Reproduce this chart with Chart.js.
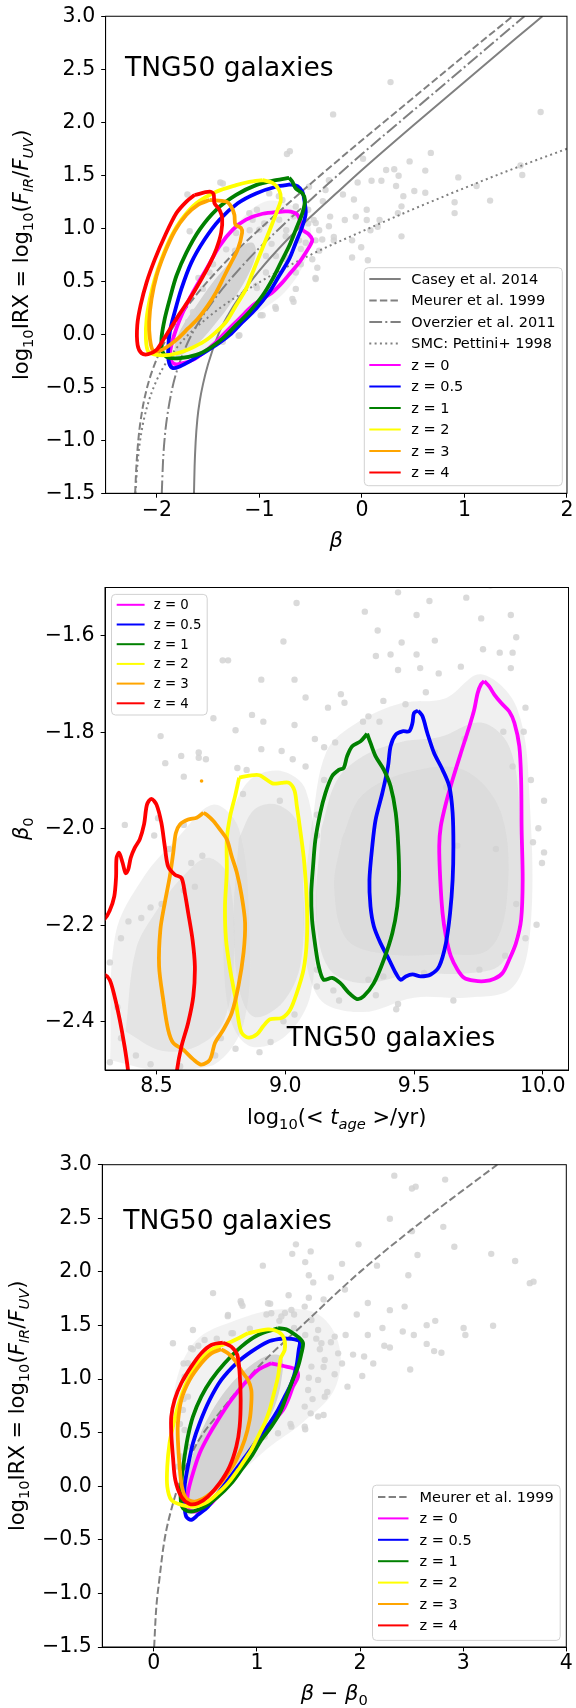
<!DOCTYPE html>
<html>
<head>
<meta charset="utf-8">
<script src="https://cdn.jsdelivr.net/npm/chart.js@4.4.1/dist/chart.umd.min.js"></script>
<style>
  body { margin: 0; background: #fff; width: 576px; height: 1708px; position: relative; overflow: hidden; }
  .panel { position: absolute; left: 0; width: 576px; }
</style>
</head>
<body>
<div class="panel" style="top:0;height:560px"><canvas id="c1"></canvas></div>
<div class="panel" style="top:560px;height:575px"><canvas id="c2"></canvas></div>
<div class="panel" style="top:1135px;height:573px"><canvas id="c3"></canvas></div>
<script>
// ---------- shared ----------
var zLabels = ['z = 0', 'z = 0.5', 'z = 1', 'z = 2', 'z = 3', 'z = 4'];
var zColors = ['#ff00ff', '#0000ff', '#008000', '#ffff00', '#ffa500', '#ff0000'];

// ---------- panel 1: IRX vs beta ----------
var p1XTicks = [-2, -1, 0, 1, 2];
var p1YTicks = [-1.5, -1.0, -0.5, 0.0, 0.5, 1.0, 1.5, 2.0, 2.5, 3.0];
var casey2014 = [[-1.638,-1.5],[-1.632,-1.25],[-1.622,-1.02],[-1.605,-0.80],[-1.58,-0.62],[-1.55,-0.47],[-1.5,-0.28],[-1.4,0.0],[-1.3,0.19],[-1.2,0.345],[-1.0,0.6],[-0.75,0.87],[-0.5,1.108],[-0.25,1.33],[0,1.55],[0.5,1.97],[1.0,2.38],[1.5,2.79],[1.76,3.0]];
var meurer1999 = [[-2.212,-1.5],[-2.2,-1.25],[-2.18,-0.99],[-2.15,-0.76],[-2.1,-0.52],[-2.0,-0.23],[-1.9,-0.03],[-1.8,0.13],[-1.6,0.39],[-1.4,0.61],[-1.2,0.81],[-1.0,0.99],[-0.5,1.42],[0,1.83],[0.5,2.23],[1.0,2.63],[1.47,3.0]];
var overzier2011 = [[-1.952,-1.5],[-1.94,-1.2],[-1.92,-0.94],[-1.9,-0.78],[-1.85,-0.51],[-1.8,-0.33],[-1.7,-0.08],[-1.6,0.10],[-1.4,0.38],[-1.2,0.61],[-1.0,0.815],[-0.5,1.27],[0,1.70],[0.5,2.11],[1.0,2.52],[1.585,3.0]];
var smc1998 = [[-2.209,-1.5],[-2.2,-1.36],[-2.18,-1.13],[-2.15,-0.92],[-2.1,-0.70],[-2.0,-0.43],[-1.8,-0.12],[-1.5,0.16],[-1.0,0.49],[-0.5,0.75],[0,0.97],[0.5,1.18],[1.0,1.38],[1.5,1.57],[2.0,1.75]];

var p1z0 = [[-0.775,1.158],[-0.694,1.158],[-0.629,1.127],[-0.597,1.050],[-0.581,0.987],[-0.516,0.941],[-0.484,0.894],[-0.500,0.847],[-0.548,0.770],[-0.613,0.676],[-0.694,0.583],[-0.775,0.490],[-0.872,0.397],[-0.969,0.334],[-1.066,0.272],[-1.163,0.179],[-1.260,0.086],[-1.357,-0.008],[-1.454,-0.101],[-1.551,-0.179],[-1.648,-0.241],[-1.745,-0.272],[-1.826,-0.281],[-1.874,-0.225],[-1.858,-0.101],[-1.809,0.055],[-1.745,0.210],[-1.648,0.397],[-1.518,0.614],[-1.389,0.832],[-1.260,0.987],[-1.130,1.081],[-0.969,1.137],[-0.775,1.158]];
var p1z05 = [[-0.694,1.413],[-0.629,1.398],[-0.581,1.345],[-0.565,1.283],[-0.548,1.143],[-0.581,1.019],[-0.645,0.863],[-0.710,0.708],[-0.807,0.552],[-0.904,0.397],[-1.033,0.241],[-1.163,0.117],[-1.292,-0.008],[-1.421,-0.101],[-1.551,-0.179],[-1.680,-0.256],[-1.777,-0.303],[-1.842,-0.319],[-1.880,-0.272],[-1.890,-0.163],[-1.874,0.023],[-1.826,0.210],[-1.761,0.428],[-1.664,0.676],[-1.535,0.894],[-1.389,1.081],[-1.211,1.236],[-1.033,1.329],[-0.839,1.392],[-0.694,1.413]];
var p1z1 = [[-0.710,1.476],[-0.678,1.438],[-0.645,1.376],[-0.581,1.329],[-0.555,1.267],[-0.581,1.143],[-0.645,0.987],[-0.710,0.832],[-0.791,0.676],[-0.872,0.521],[-0.969,0.366],[-1.098,0.210],[-1.227,0.086],[-1.357,-0.039],[-1.486,-0.132],[-1.615,-0.194],[-1.777,-0.225],[-1.890,-0.219],[-1.945,-0.163],[-1.955,-0.039],[-1.923,0.148],[-1.874,0.334],[-1.809,0.552],[-1.712,0.770],[-1.583,0.987],[-1.421,1.174],[-1.227,1.314],[-1.033,1.407],[-0.839,1.454],[-0.710,1.476]];
var p1z2 = [[-0.969,1.454],[-0.872,1.429],[-0.807,1.361],[-0.791,1.267],[-0.823,1.174],[-0.872,1.050],[-0.936,0.894],[-1.001,0.739],[-1.066,0.583],[-1.130,0.428],[-1.227,0.272],[-1.324,0.117],[-1.421,0.023],[-1.518,-0.054],[-1.632,-0.116],[-1.745,-0.163],[-1.874,-0.194],[-2.003,-0.194],[-2.084,-0.163],[-2.107,-0.039],[-2.100,0.148],[-2.068,0.334],[-2.020,0.521],[-1.955,0.707],[-1.858,0.925],[-1.761,1.081],[-1.615,1.236],[-1.421,1.345],[-1.227,1.407],[-1.098,1.438],[-0.969,1.454]];
var p1z3 = [[-1.486,1.267],[-1.324,1.252],[-1.276,1.205],[-1.244,1.127],[-1.234,1.034],[-1.179,1.003],[-1.169,0.956],[-1.211,0.801],[-1.276,0.676],[-1.341,0.552],[-1.421,0.397],[-1.502,0.272],[-1.599,0.148],[-1.696,0.055],[-1.793,-0.039],[-1.874,-0.101],[-1.955,-0.148],[-2.036,-0.157],[-2.068,-0.039],[-2.075,0.117],[-2.052,0.334],[-2.003,0.552],[-1.923,0.770],[-1.826,0.972],[-1.712,1.127],[-1.599,1.221],[-1.486,1.267]];
var p1z4 = [[-1.632,1.314],[-1.486,1.345],[-1.447,1.323],[-1.438,1.236],[-1.389,1.174],[-1.363,1.096],[-1.373,0.956],[-1.421,0.801],[-1.486,0.661],[-1.583,0.490],[-1.680,0.334],[-1.777,0.195],[-1.858,0.070],[-1.939,-0.054],[-2.003,-0.148],[-2.084,-0.188],[-2.149,-0.179],[-2.188,-0.101],[-2.191,0.086],[-2.159,0.272],[-2.100,0.490],[-2.020,0.707],[-1.923,0.925],[-1.809,1.143],[-1.712,1.252],[-1.632,1.314]];
var p1Core = [[-1.809,-0.225],[-1.615,-0.101],[-1.389,0.148],[-1.227,0.366],[-1.098,0.583],[-1.033,0.770],[-1.066,0.863],[-1.163,0.832],[-1.292,0.676],[-1.454,0.490],[-1.615,0.272],[-1.745,0.086],[-1.826,-0.101],[-1.809,-0.225]];
var p1Halo = [[-1.85,-0.28],[-1.5,-0.15],[-1.1,0.15],[-0.75,0.4],[-0.55,0.7],[-0.5,1.0],[-0.65,1.2],[-0.95,1.25],[-1.25,1.0],[-1.5,0.6],[-1.75,0.2],[-1.9,-0.1],[-1.85,-0.28]];
var p1Dots = [[0.279,2.379],[-0.281,2.074],[1.743,2.097],[-0.703,1.727],[-0.731,1.701],[0.672,1.711],[0.011,1.656],[0.465,1.631],[0.236,1.550],[0.315,1.557],[0.618,1.544],[0.358,1.496],[0.940,1.480],[-1.381,1.432],[-1.702,1.319],[0.190,1.448],[0.511,1.351],[0.404,1.303],[0.618,1.335],[0.333,1.399],[0.094,1.448],[-0.042,1.432],[1.564,1.502],[1.547,1.592],[1.118,1.399],[1.250,1.261],[0.904,1.245],[0.904,1.143],[0.386,1.207],[0.351,1.143],[-0.185,1.319],[-0.078,1.271],[-0.381,1.255],[-0.310,1.110],[-0.167,1.078],[-0.060,1.110],[0.047,1.078],[0.172,1.078],[0.047,1.175],[-0.274,0.918],[-0.274,0.886],[-0.096,0.725],[-0.096,0.886],[-0.007,0.821],[0.058,0.699],[0.386,0.924],[-0.453,0.886],[-0.435,0.628],[-0.453,0.532],[-0.667,0.307],[-0.845,0.259],[-0.988,0.179],[-1.203,-0.014],[0.083,0.982],[0.154,1.014],[-0.417,0.982],[-0.613,0.886],[-0.596,0.805],[-0.953,1.046],[-1.024,1.175],[-0.810,1.303],[-1.095,0.982],[-0.524,1.046],[-0.738,0.982],[-0.667,1.110],[-0.881,0.853],[-1.095,0.789],[-1.238,0.596],[-0.738,0.725],[-0.596,0.661],[-0.845,0.532],[-1.024,0.436],[-1.309,0.468],[-1.381,0.275],[-1.524,0.211],[-0.524,1.175],[-0.417,0.789],[-0.470,1.078],[-1.238,0.789],[-1.452,0.661],[-1.595,0.532],[-1.666,0.339],[-1.357,1.423],[-0.904,1.329],[-0.775,1.267],[-0.516,1.392],[-0.355,1.361],[-0.322,1.454],[-0.451,1.050],[-0.387,0.894],[-0.322,1.019],[-0.484,0.708],[-0.645,0.583],[-0.451,0.521],[-0.678,0.334],[-0.839,0.241],[-0.969,0.179],[-1.195,-0.008],[-1.357,-0.070],[-0.645,0.428],[-1.680,0.972],[-1.696,0.117],[-1.066,1.081],[-1.001,0.987],[-0.807,1.081],[-0.743,0.925],[-0.839,0.739],[-0.936,0.583],[-1.033,0.459],[-1.227,0.956],[-1.324,0.801],[-1.486,0.583],[-1.551,0.428],[-1.648,0.210],[-1.098,1.143],[-0.645,1.205],[-0.548,0.863],[-0.743,0.708],[-0.936,0.739]];

// ---------- panel 2: beta0 vs stellar age ----------
var p2XTicks = [8.5, 9.0, 9.5, 10.0];
var p2YTicks = [-2.4, -2.2, -2.0, -1.8, -1.6];
var p2z0 = [[9.773,-1.694],[9.792,-1.705],[9.812,-1.722],[9.838,-1.739],[9.870,-1.757],[9.890,-1.781],[9.909,-1.829],[9.916,-1.898],[9.918,-2.002],[9.922,-2.106],[9.916,-2.188],[9.896,-2.237],[9.870,-2.271],[9.844,-2.299],[9.812,-2.311],[9.773,-2.316],[9.734,-2.315],[9.695,-2.309],[9.669,-2.292],[9.643,-2.264],[9.624,-2.223],[9.611,-2.175],[9.602,-2.106],[9.598,-2.036],[9.604,-1.995],[9.624,-1.947],[9.650,-1.898],[9.682,-1.843],[9.715,-1.788],[9.734,-1.753],[9.747,-1.719],[9.760,-1.701],[9.773,-1.694]];
var p2z05 = [[9.516,-1.755],[9.533,-1.767],[9.552,-1.802],[9.578,-1.843],[9.611,-1.878],[9.637,-1.912],[9.650,-1.967],[9.653,-2.036],[9.650,-2.106],[9.640,-2.175],[9.624,-2.237],[9.598,-2.285],[9.565,-2.302],[9.526,-2.306],[9.494,-2.302],[9.468,-2.306],[9.448,-2.313],[9.429,-2.299],[9.403,-2.271],[9.370,-2.237],[9.344,-2.202],[9.331,-2.161],[9.327,-2.106],[9.338,-2.036],[9.351,-1.981],[9.377,-1.926],[9.399,-1.871],[9.409,-1.829],[9.429,-1.805],[9.455,-1.798],[9.481,-1.798],[9.494,-1.781],[9.500,-1.760],[9.516,-1.755]];
var p2z1 = [[9.318,-1.803],[9.331,-1.822],[9.351,-1.850],[9.383,-1.878],[9.409,-1.912],[9.429,-1.967],[9.439,-2.036],[9.442,-2.106],[9.435,-2.161],[9.416,-2.216],[9.383,-2.271],[9.344,-2.320],[9.305,-2.347],[9.279,-2.353],[9.247,-2.340],[9.214,-2.320],[9.182,-2.309],[9.149,-2.313],[9.130,-2.285],[9.117,-2.244],[9.104,-2.188],[9.101,-2.133],[9.108,-2.078],[9.117,-2.023],[9.136,-1.967],[9.156,-1.926],[9.182,-1.891],[9.208,-1.878],[9.227,-1.874],[9.240,-1.850],[9.260,-1.829],[9.292,-1.819],[9.318,-1.803]];
var p2z2 = [[8.821,-1.894],[8.860,-1.890],[8.900,-1.889],[8.950,-1.906],[8.985,-1.905],[9.015,-1.905],[9.036,-1.921],[9.045,-1.953],[9.058,-2.002],[9.074,-2.071],[9.084,-2.154],[9.084,-2.230],[9.071,-2.292],[9.045,-2.340],[9.019,-2.375],[8.987,-2.392],[8.941,-2.395],[8.915,-2.409],[8.890,-2.426],[8.857,-2.433],[8.831,-2.423],[8.818,-2.395],[8.805,-2.347],[8.786,-2.292],[8.770,-2.230],[8.766,-2.160],[8.773,-2.091],[8.773,-2.022],[8.786,-1.974],[8.805,-1.933],[8.821,-1.894]];
var p2z3 = [[8.682,-1.967],[8.695,-1.971],[8.721,-1.984],[8.747,-2.002],[8.773,-2.022],[8.792,-2.057],[8.812,-2.091],[8.831,-2.140],[8.844,-2.195],[8.838,-2.257],[8.818,-2.326],[8.792,-2.382],[8.760,-2.416],[8.727,-2.444],[8.708,-2.478],[8.675,-2.489],[8.643,-2.478],[8.604,-2.458],[8.565,-2.444],[8.545,-2.416],[8.526,-2.354],[8.510,-2.285],[8.515,-2.209],[8.532,-2.154],[8.552,-2.098],[8.565,-2.050],[8.575,-2.009],[8.591,-1.991],[8.623,-1.981],[8.656,-1.977],[8.682,-1.967]];
var p2z3Spot = [[8.675,-1.901]];
var p2z4 = [[8.26,-2.30],[8.297,-2.302],[8.318,-2.313],[8.337,-2.347],[8.357,-2.395],[8.376,-2.451],[8.389,-2.499],[8.40,-2.56],[8.57,-2.56],[8.580,-2.499],[8.597,-2.451],[8.623,-2.402],[8.643,-2.347],[8.649,-2.285],[8.640,-2.230],[8.623,-2.174],[8.610,-2.133],[8.597,-2.102],[8.571,-2.095],[8.545,-2.078],[8.532,-2.036],[8.519,-1.988],[8.500,-1.950],[8.480,-1.938],[8.463,-1.950],[8.452,-1.990],[8.435,-2.022],[8.415,-2.040],[8.400,-2.060],[8.390,-2.085],[8.380,-2.092],[8.368,-2.070],[8.355,-2.050],[8.345,-2.060],[8.343,-2.100],[8.336,-2.140],[8.318,-2.170],[8.297,-2.188],[8.26,-2.20],[8.26,-2.30]];
var p2HaloLeft = [[8.32,-2.48],[8.34,-2.22],[8.45,-2.10],[8.58,-2.02],[8.72,-1.95],[8.82,-2.0],[8.86,-2.2],[8.84,-2.40],[8.72,-2.49],[8.50,-2.50],[8.32,-2.48]];
var p2HaloMid = [[8.78,-1.98],[8.86,-1.90],[8.98,-1.88],[9.08,-1.92],[9.12,-2.1],[9.10,-2.34],[9.0,-2.43],[8.86,-2.45],[8.78,-2.38],[8.76,-2.15],[8.78,-1.98]];
var p2HaloRight = [[9.10,-2.0],[9.16,-1.84],[9.28,-1.78],[9.45,-1.74],[9.62,-1.73],[9.76,-1.68],[9.90,-1.75],[9.95,-1.95],[9.95,-2.22],[9.88,-2.33],[9.70,-2.35],[9.50,-2.35],[9.30,-2.38],[9.13,-2.35],[9.07,-2.2],[9.10,-2.0]];
var p2CloudLeft = [[8.38,-2.42],[8.42,-2.25],[8.50,-2.17],[8.60,-2.10],[8.70,-2.06],[8.78,-2.1],[8.80,-2.28],[8.76,-2.40],[8.66,-2.45],[8.52,-2.46],[8.38,-2.42]];
var p2CloudMid = [[8.82,-2.02],[8.88,-1.96],[8.97,-1.95],[9.05,-1.99],[9.07,-2.12],[9.06,-2.28],[8.99,-2.36],[8.88,-2.39],[8.82,-2.33],[8.80,-2.18],[8.82,-2.02]];
var p2CloudRight = [[9.14,-2.0],[9.20,-1.90],[9.30,-1.85],[9.45,-1.82],[9.6,-1.81],[9.76,-1.78],[9.87,-1.83],[9.91,-1.97],[9.91,-2.18],[9.84,-2.28],[9.70,-2.30],[9.50,-2.30],[9.30,-2.32],[9.17,-2.29],[9.12,-2.18],[9.14,-2.0]];
var p2CloudCore = [[9.22,-2.02],[9.3,-1.93],[9.5,-1.88],[9.7,-1.88],[9.84,-1.97],[9.86,-2.15],[9.79,-2.25],[9.6,-2.26],[9.4,-2.26],[9.24,-2.23],[9.19,-2.12],[9.22,-2.02]];
var p2Dots = [[9.438,-1.510],[9.703,-1.521],[9.560,-1.528],[9.044,-1.532],[9.797,-1.496],[9.876,-1.557],[9.309,-1.550],[9.510,-1.557],[9.761,-1.564],[9.897,-1.603],[8.993,-1.612],[9.359,-1.589],[9.452,-1.614],[9.581,-1.610],[9.768,-1.628],[9.833,-1.635],[9.352,-1.642],[9.409,-1.639],[9.510,-1.639],[9.883,-1.635],[8.757,-1.651],[8.778,-1.651],[9.438,-1.671],[9.524,-1.667],[9.596,-1.678],[9.682,-1.664],[9.876,-1.667],[8.907,-1.691],[9.036,-1.691],[9.216,-1.721],[9.079,-1.728],[9.166,-1.749],[9.230,-1.739],[9.381,-1.735],[9.467,-1.742],[9.546,-1.717],[9.933,-1.749],[9.366,-1.778],[9.323,-1.767],[9.302,-1.778],[9.036,-1.785],[8.871,-1.764],[8.915,-1.778],[8.807,-1.796],[8.721,-1.771],[8.516,-1.808],[8.596,-1.849],[8.664,-1.853],[8.692,-1.856],[8.534,-1.864],[8.907,-1.835],[8.986,-1.839],[9.029,-1.856],[9.115,-1.814],[9.151,-1.831],[9.194,-1.821],[8.814,-1.874],[8.850,-1.878],[9.079,-1.871],[9.954,-1.899],[10.005,-1.942],[9.983,-1.999],[9.962,-2.028],[10.005,-2.049],[9.997,-2.071],[9.976,-2.199],[9.933,-2.227],[9.653,-2.356],[9.438,-2.363],[9.352,-2.345],[9.431,-2.374],[9.187,-2.335],[9.209,-2.356],[9.123,-2.292],[9.036,-2.385],[8.993,-2.399],[8.943,-2.442],[8.900,-2.463],[8.807,-2.456],[8.750,-2.434],[8.728,-2.470],[8.592,-2.492],[8.477,-2.488],[8.420,-2.470],[8.319,-2.484],[8.362,-2.434],[8.348,-2.370],[8.319,-2.277],[8.362,-2.227],[8.391,-2.192],[8.441,-2.185],[8.477,-2.163],[8.520,-2.156],[8.606,-2.128],[8.649,-2.120],[8.678,-2.056],[8.635,-2.071],[8.506,-1.978],[8.491,-2.014],[8.549,-2.042],[8.377,-1.992],[8.606,-1.992],[8.606,-1.892],[8.664,-1.842],[8.836,-1.928],[8.979,-1.942],[9.123,-2.014],[9.123,-1.971],[9.151,-1.899],[9.668,-2.035],[9.581,-1.842],[9.625,-1.914],[9.696,-1.814],[9.847,-1.799],[9.926,-1.799],[9.883,-1.871],[9.818,-2.042],[9.897,-2.156],[9.854,-2.263],[9.754,-2.292],[9.539,-2.299],[9.323,-2.313],[9.123,-2.327],[9.381,-2.306]];

// ---------- panel 3: IRX vs beta - beta0 ----------
var p3XTicks = [0, 1, 2, 3, 4];
var p3YTicks = [-1.5, -1.0, -0.5, 0.0, 0.5, 1.0, 1.5, 2.0, 2.5, 3.0];
var meurerShifted = [[0.003,-1.5],[0.02,-1.18],[0.056,-0.85],[0.10,-0.52],[0.18,-0.18],[0.29,0.14],[0.43,0.42],[0.64,0.69],[1.0,1.1],[1.46,1.52],[2.0,2.0],[2.6,2.47],[3.33,3.0]];
var p3z0 = [[1.139,1.147],[1.285,1.116],[1.382,1.085],[1.398,1.023],[1.350,0.930],[1.301,0.805],[1.253,0.712],[1.172,0.619],[1.075,0.510],[0.978,0.370],[0.881,0.214],[0.784,0.090],[0.654,-0.050],[0.557,-0.159],[0.460,-0.221],[0.379,-0.236],[0.330,-0.205],[0.330,-0.065],[0.379,0.121],[0.444,0.308],[0.525,0.463],[0.622,0.619],[0.751,0.805],[0.881,0.961],[1.010,1.085],[1.139,1.147]];
var p3z05 = [[1.253,1.380],[1.366,1.371],[1.415,1.349],[1.405,1.272],[1.382,1.116],[1.334,0.961],[1.269,0.836],[1.204,0.712],[1.123,0.588],[1.026,0.463],[0.913,0.308],[0.816,0.183],[0.719,0.059],[0.622,-0.065],[0.525,-0.190],[0.427,-0.267],[0.363,-0.314],[0.314,-0.283],[0.298,-0.190],[0.298,-0.003],[0.330,0.183],[0.379,0.401],[0.444,0.588],[0.541,0.805],[0.654,0.992],[0.800,1.147],[0.945,1.256],[1.107,1.349],[1.253,1.380]];
var p3z1 = [[1.204,1.474],[1.285,1.464],[1.350,1.427],[1.415,1.380],[1.447,1.334],[1.431,1.240],[1.398,1.116],[1.334,0.961],[1.285,0.836],[1.220,0.681],[1.139,0.556],[1.042,0.432],[0.945,0.277],[0.848,0.152],[0.751,0.028],[0.622,-0.097],[0.492,-0.190],[0.363,-0.236],[0.282,-0.205],[0.259,-0.097],[0.272,0.090],[0.298,0.277],[0.330,0.463],[0.379,0.650],[0.460,0.836],[0.557,0.992],[0.686,1.147],[0.848,1.303],[1.010,1.411],[1.204,1.474]];
var p3z2 = [[0.913,1.427],[1.107,1.464],[1.204,1.443],[1.262,1.380],[1.269,1.272],[1.230,1.194],[1.204,1.023],[1.156,0.836],[1.123,0.712],[1.075,0.588],[1.026,0.494],[0.945,0.339],[0.881,0.245],[0.816,0.152],[0.719,0.028],[0.622,-0.065],[0.525,-0.143],[0.395,-0.190],[0.266,-0.174],[0.169,-0.128],[0.130,-0.003],[0.130,0.183],[0.152,0.401],[0.185,0.556],[0.233,0.743],[0.314,0.961],[0.427,1.147],[0.557,1.272],[0.751,1.349],[0.913,1.427]];
var p3z3 = [[0.654,1.278],[0.719,1.240],[0.784,1.178],[0.855,1.069],[0.913,0.992],[0.945,0.898],[0.945,0.774],[0.929,0.619],[0.881,0.432],[0.800,0.245],[0.719,0.121],[0.622,-0.003],[0.509,-0.097],[0.395,-0.143],[0.314,-0.112],[0.272,-0.003],[0.250,0.183],[0.233,0.432],[0.233,0.588],[0.266,0.805],[0.347,0.992],[0.460,1.147],[0.557,1.240],[0.654,1.278]];
var p3z4 = [[0.670,1.340],[0.751,1.303],[0.809,1.225],[0.832,1.054],[0.842,0.805],[0.832,0.556],[0.800,0.370],[0.735,0.183],[0.638,0.028],[0.525,-0.097],[0.427,-0.159],[0.347,-0.165],[0.266,-0.097],[0.208,0.059],[0.185,0.277],[0.169,0.494],[0.169,0.650],[0.201,0.805],[0.266,0.961],[0.363,1.116],[0.460,1.241],[0.557,1.318],[0.670,1.340]];
var p3Core = [[0.347,-0.190],[0.492,-0.128],[0.686,0.059],[0.881,0.277],[1.042,0.494],[1.172,0.743],[1.237,0.992],[1.237,1.209],[1.075,1.209],[0.816,1.023],[0.589,0.743],[0.427,0.432],[0.330,0.121],[0.298,-0.097],[0.347,-0.190]];
var p3Halo = [[0.3,-0.3],[0.7,0.0],[1.1,0.35],[1.45,0.6],[1.75,0.9],[1.8,1.3],[1.6,1.6],[1.2,1.65],[0.8,1.55],[0.4,1.35],[0.2,0.9],[0.2,0.3],[0.3,-0.3]];
var p3Dots = [[2.332,2.898],[2.825,2.861],[2.503,2.778],[2.539,2.795],[2.289,2.496],[2.503,2.380],[2.807,2.420],[1.378,2.257],[1.985,2.257],[2.914,2.234],[1.342,2.168],[1.521,2.191],[2.557,2.158],[3.272,2.168],[3.504,2.101],[1.057,2.058],[1.468,2.091],[1.825,2.075],[2.164,2.058],[1.503,1.968],[1.717,1.948],[2.468,1.968],[3.682,1.909],[3.646,1.895],[1.546,1.902],[0.574,1.802],[1.307,1.782],[1.853,1.836],[1.503,1.759],[1.646,1.743],[0.842,1.726],[0.860,1.683],[1.128,1.703],[2.075,1.709],[2.289,1.643],[2.432,1.676],[0.717,1.587],[1.092,1.603],[1.271,1.616],[1.360,1.603],[1.968,1.603],[2.729,1.543],[3.004,1.477],[3.290,1.497],[3.021,1.411],[2.646,1.503],[2.414,1.444],[2.521,1.411],[2.217,1.477],[2.075,1.411],[1.860,1.411],[2.235,1.311],[2.289,1.294],[2.646,1.328],[2.718,1.261],[2.789,1.245],[1.932,1.228],[2.039,1.211],[2.128,1.145],[2.021,1.029],[2.486,1.089],[1.878,0.929],[1.646,0.664],[1.468,0.531],[1.325,0.581],[1.521,0.680],[1.539,0.813],[1.682,0.879],[1.753,1.045],[1.825,1.145],[1.610,1.278],[1.717,1.344],[1.646,1.112],[1.503,1.012],[1.575,1.377],[1.468,1.411],[1.360,1.477],[1.217,1.543],[0.360,1.288],[0.288,1.145],[0.431,1.311],[0.306,1.012],[0.753,1.427],[0.931,1.470],[0.610,1.377],[0.378,1.278],[0.288,0.813],[0.253,0.581],[0.379,1.458],[0.719,1.598],[0.767,1.427],[0.848,1.707],[1.107,1.707],[1.139,1.614],[1.237,1.583],[1.334,1.645],[1.463,1.676],[1.528,1.551],[1.593,1.458],[1.625,1.334],[1.657,1.178],[1.754,1.396],[1.787,1.240],[1.528,1.116],[1.593,0.992],[1.496,0.898],[1.657,0.836],[1.463,0.743],[1.593,0.650],[1.334,0.556],[1.204,0.494],[1.463,0.556],[0.330,1.147],[0.298,1.023],[0.330,0.836],[0.282,0.712],[0.298,0.525],[0.330,0.370],[0.233,0.183],[0.266,0.277],[0.185,1.334],[0.427,1.178],[0.492,1.365],[1.075,0.463],[0.978,0.432]];

// ---------- helpers ----------
var FONT = '"DejaVu Sans"';
var GRAY = '#808080';
var DASHED = [7.4, 3.2], DASHDOT = [12.8, 3.2, 2, 3.2], DOTTED = [2, 3.3];

function pts(a) {
    return a.map(function (p) { return { x: p[0], y: p[1] }; });
}
// z = 4 ends up on top, like the original plotting order
function contourSet(data, color, i) {
    return { data: pts(data), showLine: true, borderColor: color, borderWidth: 3.8, pointRadius: 0,
             tension: 0.3, fill: false, order: 1 + (5 - i) * 0.1, clip: 0, borderJoinStyle: 'round' };
}
function curveSet(data, dash) {
    return { data: pts(data), showLine: true, borderColor: GRAY, borderWidth: 2, borderDash: dash,
             pointRadius: 0, cubicInterpolationMode: 'monotone', fill: false, order: 2, clip: 0 };
}
function blobSet(data, color, order) {
    return { data: pts(data), showLine: true, borderWidth: 0, borderColor: 'rgba(0,0,0,0)',
             backgroundColor: color, fill: 'shape', pointRadius: 0, tension: 0.35, order: order || 9, clip: 0 };
}
function dotSet(data) {
    return { data: pts(data), showLine: false, pointRadius: 3.2, pointBorderWidth: 0,
             pointBackgroundColor: 'rgba(211,211,211,0.85)', order: 8 };
}
function minus(s) { return s.replace('-', '\u2212'); }

function axis(min, max, ticks, digits, size, isX) {
    return {
        type: 'linear', min: min, max: max,
        afterBuildTicks: function (s) { s.ticks = ticks.map(function (v) { return { value: v }; }); },
        afterFit: function (s) { if (isX) { s.height = size; } else { s.width = size; } },
        grid: { display: true, drawOnChartArea: false, drawTicks: true, tickLength: 4.4, color: '#000', lineWidth: 1 },
        border: { display: true, color: '#000', width: 1 },
        ticks: {
            color: '#000', autoSkip: false, maxRotation: 0, padding: isX ? 2.5 : 6,
            font: { family: 'DejaVu Sans', size: 20.5, lineHeight: 1 },
            callback: function (v) { return minus(Number(v).toFixed(digits)); }
        }
    };
}

// text made of plain / italic / subscript pieces
function drawRich(ctx, parts, x, y, size, rotate) {
    function fontOf(p) { return (p.it ? 'italic ' : '') + (p.sub ? size * 0.7 : size) + 'px ' + FONT; }
    ctx.save();
    ctx.translate(x, y);
    if (rotate) { ctx.rotate(-Math.PI / 2); }
    ctx.fillStyle = '#000';
    ctx.textBaseline = 'alphabetic';
    var w = 0;
    parts.forEach(function (p) { ctx.font = fontOf(p); w += ctx.measureText(p.t).width; });
    var cx = -w / 2;
    parts.forEach(function (p) {
        ctx.font = fontOf(p);
        ctx.fillText(p.t, cx, p.sub ? size * 0.24 : 0);
        cx += ctx.measureText(p.t).width;
    });
    ctx.restore();
}

function drawLegend(ctx, lg) {
    ctx.save();
    var r = 4, x = lg.x, y = lg.y, w = lg.w, h = lg.h;
    ctx.beginPath();
    ctx.moveTo(x + r, y);
    ctx.arcTo(x + w, y, x + w, y + h, r);
    ctx.arcTo(x + w, y + h, x, y + h, r);
    ctx.arcTo(x, y + h, x, y, r);
    ctx.arcTo(x, y, x + w, y, r);
    ctx.closePath();
    ctx.fillStyle = 'rgba(255,255,255,0.8)';
    ctx.fill();
    ctx.strokeStyle = 'rgba(204,204,204,0.9)';
    ctx.lineWidth = 1;
    ctx.stroke();
    ctx.font = lg.size + 'px ' + FONT;
    ctx.textBaseline = 'middle';
    lg.items.forEach(function (it, i) {
        var ry = lg.row0 + i * lg.step;
        ctx.beginPath();
        ctx.setLineDash(it.dash || []);
        ctx.strokeStyle = it.color;
        ctx.lineWidth = 2;
        ctx.moveTo(lg.lx0, ry);
        ctx.lineTo(lg.lx1, ry);
        ctx.stroke();
        ctx.setLineDash([]);
        ctx.fillStyle = '#000';
        ctx.fillText(it.label, lg.tx, ry + 1);
    });
    ctx.restore();
}

function decor(opt) {
    return {
        id: 'decor',
        afterDatasetsDraw: function (chart) {
            var ca = chart.chartArea, ctx = chart.ctx;
            ctx.save();
            ctx.strokeStyle = '#000';
            ctx.lineWidth = 1;
            ctx.strokeRect(ca.left, ca.top, ca.right - ca.left, ca.bottom - ca.top);
            ctx.restore();
        },
        afterDraw: function (chart) {
            var ca = chart.chartArea, ctx = chart.ctx;
            drawRich(ctx, opt.yTitle, opt.yTitleX, (ca.top + ca.bottom) / 2, 21, true);
            drawRich(ctx, opt.xTitle, (ca.left + ca.right) / 2, ca.bottom + opt.xTitleDy, 21, false);
            ctx.save();
            ctx.font = '26.5px ' + FONT;
            ctx.fillStyle = '#000';
            ctx.fillText('TNG50 galaxies', opt.tag[0], opt.tag[1]);
            ctx.restore();
            drawLegend(ctx, opt.legend);
        }
    };
}

function zItems() {
    return zLabels.map(function (l, i) { return { label: l, color: zColors[i] }; });
}
function contours(list) {
    return list.map(function (c, i) { return contourSet(c, zColors[i], i); });
}

function makeChart(id, datasets, scales, padding, opt) {
    return new Chart(document.getElementById(id).getContext('2d'), {
        type: 'line',
        data: { datasets: datasets },
        options: {
            responsive: true, maintainAspectRatio: false, animation: false, events: [],
            layout: { padding: padding },
            scales: scales,
            plugins: { legend: { display: false }, tooltip: { enabled: false } }
        },
        plugins: [decor(opt)]
    });
}

var irxTitle = [{ t: 'log' }, { t: '10', sub: 1 }, { t: 'IRX = log' }, { t: '10', sub: 1 }, { t: '(' },
                { t: 'F', it: 1 }, { t: 'IR', it: 1, sub: 1 }, { t: '/' }, { t: 'F', it: 1 }, { t: 'UV', it: 1, sub: 1 }, { t: ')' }];

// ---------- panel 1 ----------
makeChart('c1',
    [blobSet(p1Halo, 'rgba(211,211,211,0.3)', 10), blobSet(p1Core, '#d3d3d3'), dotSet(p1Dots),
     curveSet(casey2014, []), curveSet(meurer1999, DASHED), curveSet(overzier2011, DASHDOT), curveSet(smc1998, DOTTED)]
        .concat(contours([p1z0, p1z05, p1z1, p1z2, p1z3, p1z4])),
    { x: axis(-2.5, 2, p1XTicks, 0, 66.7, true), y: axis(-1.5, 3, p1YTicks, 1, 105.6, false) },
    { top: 11, right: 7, bottom: 0, left: 0 },
    {
        yTitle: irxTitle, yTitleX: 27.6,
        xTitle: [{ t: '\u03b2', it: 1 }], xTitleDy: 54,
        tag: [125, 76],
        legend: {
            x: 364.3, y: 267.7, w: 198, h: 218, row0: 279, step: 21.5, lx0: 369.3, lx1: 400.7, tx: 411.3, size: 14.5,
            items: [{ label: 'Casey et al. 2014', color: GRAY, dash: [] },
                    { label: 'Meurer et al. 1999', color: GRAY, dash: DASHED },
                    { label: 'Overzier et al. 2011', color: GRAY, dash: DASHDOT },
                    { label: 'SMC: Pettini+ 1998', color: GRAY, dash: DOTTED }].concat(zItems())
        }
    });

// ---------- panel 2 ----------
var p2Spot = { data: pts(p2z3Spot), showLine: false, pointRadius: 1.8, pointBorderWidth: 0,
               pointBackgroundColor: '#ffa500', order: 1 };
makeChart('c2',
    [blobSet(p2HaloLeft, 'rgba(211,211,211,0.35)', 11), blobSet(p2HaloMid, 'rgba(211,211,211,0.35)', 11),
     blobSet(p2HaloRight, 'rgba(211,211,211,0.35)', 11),
     blobSet(p2CloudLeft, 'rgba(211,211,211,0.4)', 10), blobSet(p2CloudMid, 'rgba(211,211,211,0.45)', 10),
     blobSet(p2CloudRight, 'rgba(211,211,211,0.5)', 10), blobSet(p2CloudCore, 'rgba(211,211,211,0.4)', 9),
     dotSet(p2Dots), p2Spot]
        .concat(contours([p2z0, p2z05, p2z1, p2z2, p2z3, p2z4])),
    { x: axis(8.3, 10.1, p2XTicks, 1, 65, true), y: axis(-2.5, -1.5, p2YTicks, 1, 105, false) },
    { top: 27.5, right: 7.5, bottom: 0, left: 0 },
    {
        yTitle: [{ t: '\u03b2', it: 1 }, { t: '0', sub: 1 }], yTitleX: 27.6,
        xTitle: [{ t: 'log' }, { t: '10', sub: 1 }, { t: '(< ' }, { t: 't', it: 1 }, { t: 'age', it: 1, sub: 1 }, { t: ' >/yr)' }],
        xTitleDy: 53.5,
        tag: [286.7, 486],
        legend: {
            x: 111.5, y: 34.4, w: 95.7, h: 120.6, row0: 44.8, step: 19.7, lx0: 116.7, lx1: 144.6, tx: 153.8, size: 13.3,
            items: zItems()
        }
    });

// ---------- panel 3 ----------
makeChart('c3',
    [blobSet(p3Halo, 'rgba(211,211,211,0.3)', 10), blobSet(p3Core, '#d3d3d3'), dotSet(p3Dots), curveSet(meurerShifted, DASHED)]
        .concat(contours([p3z0, p3z05, p3z1, p3z2, p3z3, p3z4])),
    { x: axis(-0.5, 4, p3XTicks, 0, 61, true), y: axis(-1.5, 3, p3YTicks, 1, 102.3, false) },
    { top: 29.7, right: 9.7, bottom: 0, left: 0 },
    {
        yTitle: irxTitle, yTitleX: 24.2,
        xTitle: [{ t: '\u03b2', it: 1 }, { t: ' \u2212 ' }, { t: '\u03b2', it: 1 }, { t: '0', sub: 1 }], xTitleDy: 52.6,
        tag: [123.3, 94.3],
        legend: {
            x: 372.5, y: 350.2, w: 187.7, h: 155.2, row0: 362, step: 21.4, lx0: 378, lx1: 408.5, tx: 419.6, size: 14.5,
            items: [{ label: 'Meurer et al. 1999', color: GRAY, dash: DASHED }].concat(zItems())
        }
    });
</script>
</body>
</html>
